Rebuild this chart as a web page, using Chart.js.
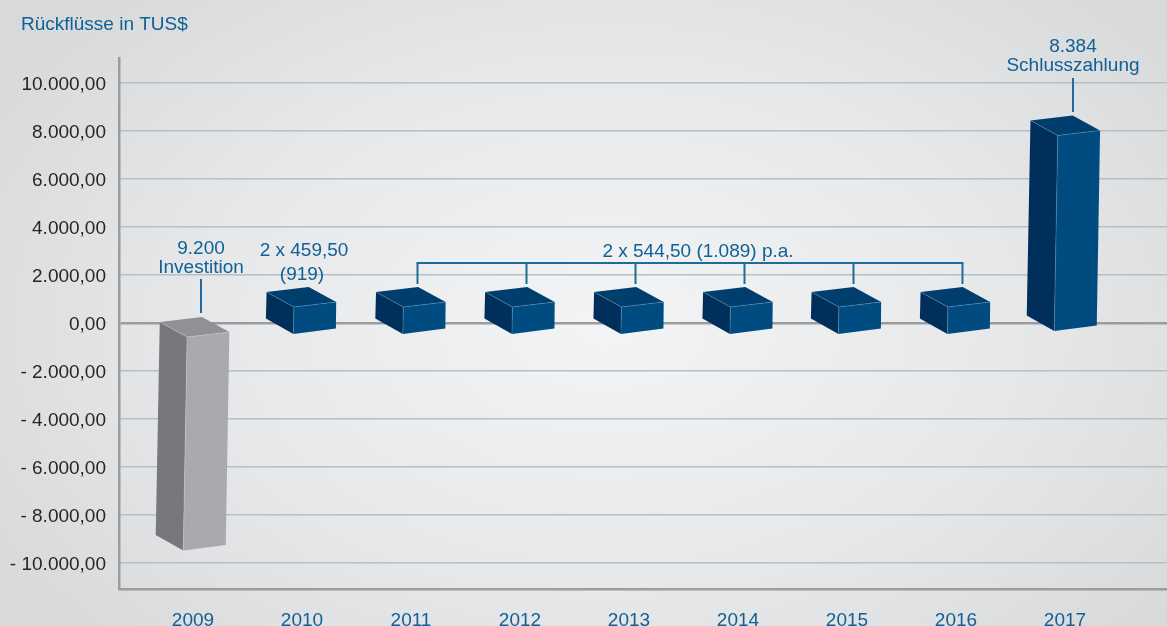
<!DOCTYPE html>
<html lang="de">
<head>
<meta charset="utf-8">
<title>Rückflüsse in TUS$</title>
<script src="https://cdn.jsdelivr.net/npm/chart.js@4/dist/chart.umd.min.js"></script>
<style>
  html, body { margin: 0; padding: 0; width: 1167px; height: 626px; overflow: hidden; }
  body { background: radial-gradient(ellipse 62% 75% at 52% 52%, #f3f4f5 0%, #e6e8e9 55%, #d7d9db 100%); }
  #chart { display: block; }
</style>
</head>
<body>
<canvas id="chart" width="1167" height="626"></canvas>
<script>
const years = [2009, 2010, 2011, 2012, 2013, 2014, 2015, 2016, 2017];
// where each box stands on the year axis, they are not quite on the labels
const boxAt = [2009.015, 2009.99, 2010.994, 2011.995, 2012.995, 2013.995, 2014.99, 2015.99, 2016.97];
// box ends as drawn in the picture (not the captioned amounts)
const boxFrom = [-170, -20, -20, -20, -20, -20, -20, -20, 105];
const boxTo = [-9040, 1083, 1083, 1083, 1083, 1083, 1083, 1083, 8229];
const yTicks = [10000, 8000, 6000, 4000, 2000, 0, -2000, -4000, -6000, -8000, -10000];
const yTickLabels = ['10.000,00', '8.000,00', '6.000,00', '4.000,00', '2.000,00', '0,00', '- 2.000,00', '- 4.000,00', '- 6.000,00', '- 8.000,00', '- 10.000,00'];
const bracketYears = [2011, 2012, 2013, 2014, 2015, 2016];

const BLUE_TEXT = '#0f6196';
const FONT = '"Liberation Sans", Arial, sans-serif';

const navy = { left: '#002f5b', top: '#003e6e', front: '#004b80', edge: 'rgba(130,175,210,.5)' };
const grey = { left: '#77787b', top: '#909194', front: '#a9aaad', edge: 'rgba(225,225,228,.45)' };

function poly(ctx, pts, fill) {
  ctx.beginPath();
  pts.forEach((p, i) => (i ? ctx.lineTo(p[0], p[1]) : ctx.moveTo(p[0], p[1])));
  ctx.closePath();
  ctx.fillStyle = fill;
  ctx.fill();
}

// bar element drawn as a box seen from above, x/y/base come from the scales
class BoxElement extends Chart.BarElement {
  draw(ctx) {
    const { x, y, base } = this.getProps(['x', 'y', 'base']);
    const c = this.options.backgroundColor === 'grey' ? grey : navy;
    const topY = Math.min(y, base);
    const botY = Math.max(y, base);
    const lean = 0.018;
    const zero = this.$zeroY;
    const tx = x - lean * (topY - zero);
    const bx = x - lean * (botY - zero);

    const tl = [tx - 34.8, topY - 5], tb = [tx + 7.3, topY - 10], tr = [tx + 34.8, topY + 5], tf = [tx - 7.5, topY + 10];
    const bl = [bx - 35, botY - 5], bf = [bx - 7.5, botY + 10.5], br = [bx + 35, botY + 5];

    ctx.save();
    poly(ctx, [tl, tf, bf, bl], c.left);
    poly(ctx, [tf, tr, br, bf], c.front);
    poly(ctx, [tl, tb, tr, tf], c.top);
    ctx.strokeStyle = c.edge;
    ctx.lineWidth = 0.7;
    ctx.beginPath();
    ctx.moveTo(tl[0], tl[1]); ctx.lineTo(tf[0], tf[1]); ctx.lineTo(tr[0], tr[1]);
    ctx.moveTo(tf[0], tf[1]); ctx.lineTo(bf[0], bf[1]);
    ctx.stroke();
    ctx.restore();
  }
}
BoxElement.id = 'box';
BoxElement.defaults = Chart.BarElement.defaults;
BoxElement.defaultRoutes = Chart.BarElement.defaultRoutes;

class BoxController extends Chart.BarController {
  updateElements(bars, start, count, mode) {
    super.updateElements(bars, start, count, mode);
    const zero = this.getScaleForId('y').getPixelForValue(0);
    bars.forEach(b => { b.$zeroY = zero; });
  }
}
BoxController.id = 'box3d';
BoxController.defaults = { ...Chart.BarController.defaults, dataElementType: 'box' };
BoxController.overrides = Chart.BarController.overrides;
Chart.register(BoxElement, BoxController);

// title, captions, leader lines and the 2011-2016 bracket
const captions = {
  id: 'captions',
  afterDatasetsDraw(chart) {
    const { ctx, scales } = chart;
    const X = scales.x, Y = scales.y;
    ctx.save();
    ctx.textBaseline = 'alphabetic';
    ctx.fillStyle = BLUE_TEXT;
    ctx.strokeStyle = '#1f6c9c';
    ctx.lineWidth = 2;

    ctx.textAlign = 'left';
    ctx.font = '19px ' + FONT;
    ctx.fillText('Rückflüsse in TUS$', 21, 30);

    ctx.textAlign = 'center';
    const text = (s, px, py) => ctx.fillText(s, px, py);
    const seg = (x1, y1, x2, y2) => { ctx.beginPath(); ctx.moveTo(x1, y1); ctx.lineTo(x2, y2); ctx.stroke(); };

    const x09 = X.getPixelForValue(2009) + 8;
    text('9.200', x09, 254);
    text('Investition', x09, 273);
    seg(x09, 279, x09, 313);

    const x10 = X.getPixelForValue(2010);
    text('2 x 459,50', x10 + 2, 256);
    text('(919)', x10, 280);

    const x17 = X.getPixelForValue(2017) + 8;
    text('8.384', x17, 52);
    text('Schlusszahlung', x17, 71);
    seg(x17, 78, x17, 112);

    const by = Y.getPixelForValue(2500);
    const bx = bracketYears.map(v => X.getPixelForValue(v) + 6.5);
    seg(bx[0] - 1, by, bx[bx.length - 1] + 1, by);
    bx.forEach(px => seg(px, by, px, 284));
    text('2 x 544,50 (1.089) p.a.', X.getPixelForValue(2013) + 69, 257);
    ctx.restore();
  },
};

new Chart(document.getElementById('chart'), {
  type: 'box3d',
  data: {
    datasets: [{
      data: years.map((v, i) => ({ x: boxAt[i], y: [boxFrom[i], boxTo[i]] })),
      backgroundColor: years.map((v, i) => (boxTo[i] < 0 ? 'grey' : 'navy')),
      clip: false,
    }],
  },
  options: {
    responsive: false,
    animation: false,
    events: [],
    layout: { padding: { top: 58, left: 0, right: 0, bottom: 0 } },
    plugins: { legend: { display: false }, tooltip: { enabled: false } },
    scales: {
      // tick labels sit 109px apart
      x: {
        type: 'linear',
        offset: false,
        min: 2008.321,
        max: 2017.936,
        afterBuildTicks(scale) { scale.ticks = years.map(v => ({ value: v })); },
        afterFit(scale) { scale.height = 37; },
        grid: { display: false, offset: false },
        border: { display: true, color: '#9b9c9e', width: 2.5 },
        ticks: {
          color: BLUE_TEXT,
          font: { family: FONT, size: 19 },
          padding: 12,
          autoSkip: false,
          maxRotation: 0,
          callback: v => String(v),
        },
      },
      y: {
        min: -11083,
        max: 11040,
        afterBuildTicks(scale) { scale.ticks = yTicks.map(v => ({ value: v })); },
        afterFit(scale) { scale.width = 119; },
        grid: {
          drawTicks: false,
          color: ctx => (ctx.tick.value === 0 ? '#9b9c9e' : '#b9bec3'),
          lineWidth: ctx => (ctx.tick.value === 0 ? 2.5 : 1.5),
        },
        border: { display: true, color: '#9b9c9e', width: 2.5 },
        ticks: {
          color: '#262626',
          font: { family: FONT, size: 19 },
          padding: 13,
          labelOffset: 1.5,
          autoSkip: false,
          callback: v => yTickLabels[yTicks.indexOf(v)],
        },
      },
    },
  },
  plugins: [captions],
});
</script>
</body>
</html>
